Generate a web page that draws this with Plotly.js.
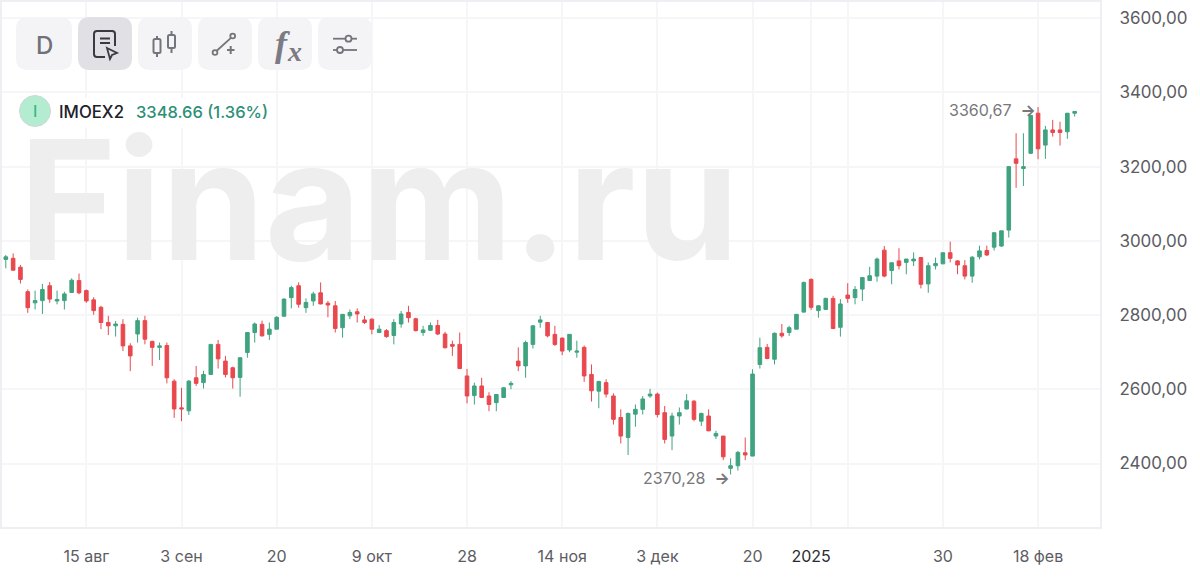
<!DOCTYPE html>
<html><head><meta charset="utf-8">
<script src="https://cdn.plot.ly/plotly-3.0.1.min.js"></script>
<style>html,body{margin:0;padding:0;background:#fff}#c{width:1200px;height:581px}</style>
</head><body><div id="c"></div>
<script>
const opens=[2950,2953,2929,2863,2833,2839,2879,2838,2839,2861,
2893,2866,2841,2821,2780,2771,2775,2717,2749,2785,
2729,2713,2718,2622,2550,2542,2631,2618,2640,2721,
2676,2658,2632,2699,2753,2775,2748,2762,2797,2847,
2879,2820,2838,2860,2832,2825,2766,2798,2809,2787,
2789,2753,2758,2745,2776,2807,2790,2753,2759,2772,
2749,2721,2721,2636,2583,2609,2582,2564,2578,2612,
2676,2663,2721,2781,2780,2748,2738,2706,2700,2713,
2640,2595,2618,2582,2524,2470,2533,2546,2582,2587,
2537,2474,2528,2547,2568,2514,2528,2474,2474,2387,
2394,2429,2420,2667,2713,2681,2751,2753,2762,2808,
2896,2812,2815,2845,2767,2854,2847,2870,2893,2905,
2975,2920,2946,2942,2946,2955,2884,2933,2938,2968,
2946,2933,2905,2957,2974,2983,2986,3029,3221,3195,
3236,3344,3258,3299,3299,3294,3344];
const highs=[2962,2966,2935,2869,2866,2884,2889,2866,2863,2899,
2912,2869,2848,2825,2798,2784,2789,2724,2793,2798,
2731,2726,2726,2627,2604,2625,2663,2650,2721,2733,
2690,2661,2686,2753,2780,2785,2780,2797,2845,2879,
2888,2845,2863,2888,2838,2838,2802,2815,2818,2798,
2791,2773,2762,2789,2811,2825,2793,2771,2780,2787,
2755,2731,2753,2655,2618,2631,2592,2587,2605,2622,
2713,2731,2773,2798,2780,2771,2739,2749,2731,2718,
2667,2623,2627,2589,2546,2537,2559,2582,2601,2591,
2555,2537,2551,2587,2571,2537,2546,2488,2474,2414,
2434,2470,2654,2739,2722,2753,2776,2771,2803,2890,
2899,2826,2847,2852,2843,2886,2878,2902,2930,2955,
2986,2942,2980,2951,2969,2956,2942,2955,2969,2998,
2948,2948,2959,2987,2987,3022,3027,3202,3290,3290,
3339,3360.67,3310,3326,3321,3344,3348.66];
const lows=[2926,2920,2885,2806,2815,2803,2833,2829,2815,2860,
2856,2833,2801,2762,2746,2742,2703,2649,2726,2721,
2663,2679,2616,2523,2514,2531,2609,2602,2640,2656,
2632,2602,2580,2685,2726,2742,2733,2762,2796,2818,
2820,2806,2825,2829,2794,2753,2739,2789,2780,2776,
2748,2753,2739,2721,2766,2780,2756,2744,2757,2746,
2710,2690,2654,2562,2559,2578,2541,2541,2577,2600,
2649,2631,2710,2766,2740,2717,2692,2700,2685,2620,
2567,2549,2578,2505,2454,2423,2499,2532,2577,2524,
2454,2436,2505,2546,2514,2501,2488,2466,2409,2370.28,
2381,2409,2420,2656,2681,2667,2739,2744,2762,2807,
2814,2793,2814,2762,2742,2833,2829,2838,2892,2890,
2902,2883,2923,2910,2932,2872,2860,2923,2938,2942,
2910,2896,2887,2950,2959,2974,2984,3009,3143,3148,
3234,3220,3221,3281,3257,3275,3335];
const closes=[2957,2921,2896,2820,2839,2869,2843,2842,2857,2894,
2860,2838,2812,2780,2771,2776,2717,2690,2785,2735,
2713,2717,2631,2547,2547,2622,2616,2640,2721,2682,
2640,2631,2685,2753,2776,2744,2762,2794,2843,2874,
2829,2834,2857,2830,2827,2764,2802,2807,2803,2780,
2762,2762,2742,2780,2803,2793,2758,2760,2772,2749,
2712,2716,2656,2582,2609,2578,2559,2586,2604,2616,
2663,2726,2771,2787,2744,2721,2703,2748,2703,2636,
2596,2621,2587,2519,2474,2535,2546,2574,2587,2532,
2465,2528,2537,2569,2519,2535,2488,2481,2418,2394,
2430,2423,2641,2712,2683,2751,2744,2766,2802,2888,
2821,2825,2845,2764,2830,2845,2869,2901,2906,2951,
2905,2941,2933,2951,2951,2883,2933,2939,2968,2953,
2935,2905,2956,2973,2962,3022,3027,3200,3209,3200,
3338,3248,3299,3292,3292,3344,3348.66];
const sessions=opens.map((_,i)=>i);
const xTickSessions=[11,24,37,50,63,76,89,102,110,115,128,141];
const xTickLabels=['15 авг','3 сен','20','9 окт','28','14 ноя','3 дек','20','<span style="color:#2b2b33">2025</span>','','30','18 фев'];
const yTickValues=[2400,2600,2800,3000,3200,3400,3600];
const yTickLabels=['2400,00','2600,00','2800,00','3000,00','3200,00','3400,00','3600,00'];
const instrument='IMOEX2', quote='3348.66 (1.36%)';
const peak={i:141,v:3360.67,label:'3360,67&nbsp; <b>→</b>'}, trough={i:99,v:2370.28,label:'2370,28&nbsp; <b>→</b>'};

const FONT='Inter, sans-serif';
const X=x=>(x-2)/1098, Y=y=>(527-y)/525;
const pth=(d,color,w,fill)=>({type:'path',xref:'paper',yref:'paper',layer:'above',path:d,line:{color:color||'rgba(0,0,0,0)',width:w||0},fillcolor:fill||'rgba(0,0,0,0)'});
const M=(x,y)=>`M ${X(x)} ${Y(y)} `, L=(x,y)=>`L ${X(x)} ${Y(y)} `, Q=(a,b,x,y)=>`Q ${X(a)} ${Y(b)} ${X(x)} ${Y(y)} `;
const rr=(x0,y0,x1,y1,r)=>M(x0+r,y0)+L(x1-r,y0)+Q(x1,y0,x1,y0+r)+L(x1,y1-r)+Q(x1,y1,x1-r,y1)+L(x0+r,y1)+Q(x0,y1,x0,y1-r)+L(x0,y0+r)+Q(x0,y0,x0+r,y0)+'Z';
const circ=(cx,cy,r,fill,stroke,w)=>({type:'circle',xref:'paper',yref:'paper',layer:'above',x0:X(cx-r),x1:X(cx+r),y0:Y(cy+r),y1:Y(cy-r),fillcolor:fill,line:{color:stroke||'rgba(0,0,0,0)',width:w||0}});
const seg=(a,b,c,d,color,w)=>pth(M(a,b)+L(c,d),color,w);
const ic='#74747c';
const shapes=[
 pth(rr(16,98,272,128,0),null,0,'#ffffff'),
 pth(rr(16,17,72,70,12),null,0,'#f4f4f6'),
 pth(rr(78,17,132,70,12),null,0,'#e0e0e5'),
 pth(rr(138,17,192,70,12),null,0,'#f4f4f6'),
 pth(rr(198,17,252,70,12),null,0,'#f4f4f6'),
 pth(rr(258,17,312,70,12),null,0,'#f4f4f6'),
 pth(rr(318,17,372,70,12),null,0,'#f4f4f6'),
 pth(M(105,57)+L(97,57)+Q(94,57,94,54)+L(94,34)+Q(94,31,97,31)+L(112,31)+Q(115,31,115,34)+L(115,46),'#3a3a44',2),
 seg(100,38.5,110,38.5,'#3a3a44',2), seg(100,43,110,43,'#3a3a44',2),
 pth(M(107,48)+L(117,53)+L(112,55)+L(110,59)+'Z','#3a3a44',1.8),
 pth(rr(153.5,39,160.5,53,1.5),ic,2), seg(157,36,157,39,ic,2), seg(157,53,157,57,ic,2),
 pth(rr(168,35,175,48,1.5),ic,2), seg(171.5,31,171.5,35,ic,2), seg(171.5,48,171.5,53,ic,2),
 circ(215,52.5,2.4,'#f4f4f6',ic,1.8), circ(232.7,36,2.4,'#f4f4f6',ic,1.8), seg(217,50.5,231,37.8,ic,1.8),
 seg(227,50,234.5,50,ic,2), seg(230.7,46,230.7,54,ic,2),
 seg(333,38.7,357,38.7,ic,1.8), seg(333,50,357,50,ic,1.8),
 circ(348.5,38.7,3,'#f4f4f6',ic,1.8), circ(340,50,3,'#f4f4f6',ic,1.8),
 circ(35,111,15.5,'#b4ecd2','#d0d8d4',1)
];
const pa=(x,y,text,size,color,extra)=>Object.assign({xref:'paper',yref:'paper',x:X(x),y:Y(y),text,showarrow:false,xanchor:'left',yanchor:'middle',font:{family:FONT,size,color}},extra||{});
const da=(o,xshift,yshift)=>({xref:'x',yref:'y',x:o.i,y:o.v,text:o.label,showarrow:false,xanchor:'right',yanchor:'middle',xshift,yshift,font:{family:FONT,size:16,color:'#77777c'}});
const annotations=[
 pa(17,199,'Finam.ru',166,'#eeeeee',{font:{family:FONT,size:166,color:'#eeeeee',weight:700}}),
 pa(44,45.5,'D',24,'#707078',{xanchor:'center',font:{family:FONT,size:24,color:'#707078',weight:500}}),
 pa(273,44,'f',34,'#7b7b83',{font:{family:'Liberation Serif, serif',size:36,color:'#7b7b83',style:'italic',weight:700}}),
 pa(285,51,'x',27,'#7b7b83',{font:{family:'Liberation Serif, serif',size:28,color:'#7b7b83',style:'italic',weight:700}}),
 pa(35,111,'I',16,'#35b98a',{xanchor:'center',font:{family:FONT,size:16,color:'#35b98a',weight:500}}),
 pa(57,112,instrument,16.8,'#20202a',{font:{family:FONT,size:16.8,color:'#20202a',weight:500}}),
 pa(133.5,112,quote,16.5,'#2d8f78',{font:{family:FONT,size:16.5,color:'#2d8f78',weight:500}}),
 da(peak,0,-3), da(trough,1,-3)
];
const trace={type:'candlestick',x:sessions,open:opens,high:highs,low:lows,close:closes,whiskerwidth:0,
 increasing:{line:{color:'#3fa37f',width:1},fillcolor:'#3fa37f'},
 decreasing:{line:{color:'#e8484e',width:1},fillcolor:'#e8484e'},hoverinfo:'skip'};
const grid='#f6f6f9', frame='#eeeef3';
const layout={width:1200,height:581,autosize:false,margin:{l:2,r:100,t:2,b:54,pad:0},paper_bgcolor:'#fff',plot_bgcolor:'#fff',
 showlegend:false,hovermode:false,dragmode:false,font:{family:FONT,size:14,color:'#555'},
 xaxis:{type:'linear',range:[-0.52,149.46],rangeslider:{visible:false},tickmode:'array',tickvals:xTickSessions,ticktext:xTickLabels,
  showgrid:true,gridcolor:grid,gridwidth:2,zeroline:false,showline:true,linecolor:frame,linewidth:2,mirror:true,ticks:'',
  ticklabelstandoff:14,tickfont:{family:FONT,size:16,color:'#5c5c63'},fixedrange:true},
 yaxis:{side:'right',range:[2228.9,3643.7],tickmode:'array',tickvals:yTickValues,ticktext:yTickLabels,
  showgrid:true,gridcolor:grid,gridwidth:2,zeroline:false,showline:true,linecolor:frame,linewidth:2,mirror:true,ticks:'',
  ticklabelstandoff:14,tickfont:{family:FONT,size:17,color:'#5c5c63'},fixedrange:true},
 shapes,annotations};
Plotly.newPlot('c',[trace],layout,{displayModeBar:false,staticPlot:true});
</script></body></html>
